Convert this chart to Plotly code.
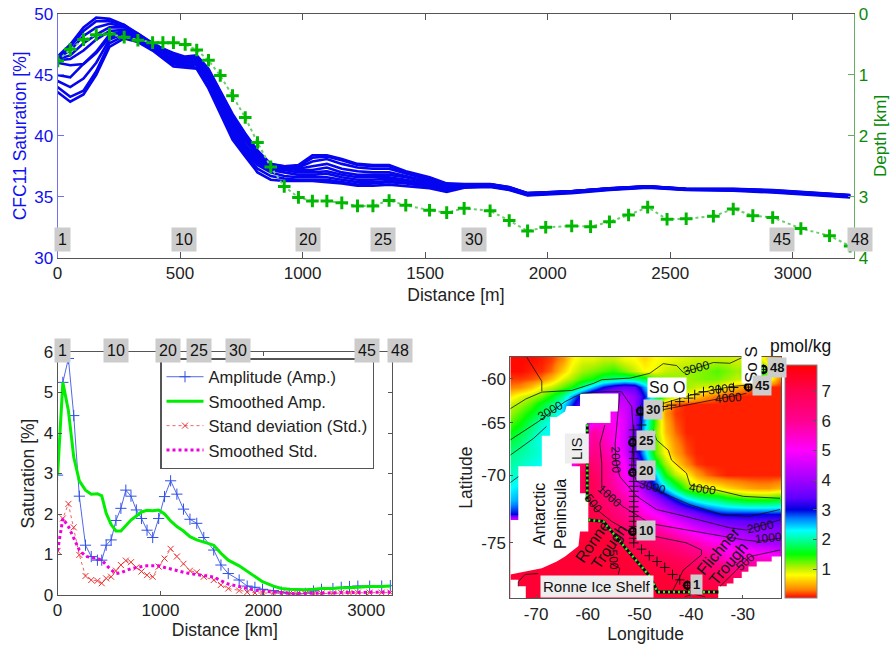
import math
import plotly.graph_objects as go

W, H = 893, 646

# ---------- section data ----------
station_km = [1,52,106,158,212,272,328,388,430,473,521,568,616,664,714,766,816,870,925,983,1040,1099,1160,1224,1287,
              1353,1421,1518,1588,1659,1765,1843,1918,1992,2098,2175,2252,2330,2408,2487,2565,2676,2757,2837,2918,3033,3150,3234]
depth_km = [.77,.58,.42,.34,.33,.38,.43,.47,.47,.47,.50,.59,.76,1.01,1.34,1.70,2.11,2.51,2.83,3.01,3.07,3.07,3.10,3.15,3.15,
            3.06,3.14,3.22,3.26,3.19,3.23,3.39,3.56,3.50,3.48,3.49,3.41,3.30,3.17,3.37,3.36,3.32,3.20,3.31,3.34,3.52,3.64,3.81]
knots = [0,52,106,158,212,272,328,388,473,521,568,616,664,714,766,816,870,925,983,1040,1099,1160,1224,1287,1353,1421,
         1518,1588,1659,1765,1843,1918,2098,2252,2408,2565,2757,2918,3234]
sat_a = [43.6,42.8,43.4,45.0,47.3,48.0,47.7,47.0,45.7,45.6,45.5,43.9,41.9,39.7,38.3,37.0,36.4,36.3,36.3,36.3,36.2,36.1,35.9,35.9,36.0,35.9,35.7,35.4,35.75,35.8,35.55,35.1,35.3,35.55,35.75,35.55,35.5,35.35,34.95]
sat_b = [44.0,43.2,43.7,45.3,47.6,48.2,47.8,47.1,45.9,45.7,45.6,44.2,42.2,40.0,38.5,37.3,36.7,36.5,36.4,36.4,36.4,36.2,36.0,36.1,36.2,36.1,35.8,35.5,35.8,35.85,35.6,35.15,35.35,35.6,35.78,35.58,35.53,35.4,35.0]
sat_c = [44.5,44.0,44.7,46.0,47.9,48.4,47.9,47.2,46.0,45.8,45.8,44.5,42.5,40.3,38.7,37.6,37.0,36.7,36.6,36.6,36.6,36.4,36.2,36.2,36.3,36.2,35.9,35.6,35.85,35.9,35.62,35.18,35.38,35.62,35.8,35.6,35.55,35.42,35.03]
sat_d = [45.0,44.8,45.9,46.8,48.1,48.5,48.0,47.2,46.1,45.9,45.9,44.7,42.8,40.6,38.9,37.8,37.2,37.0,36.8,36.8,36.9,36.6,36.4,36.4,36.5,36.3,36.0,35.65,35.88,35.92,35.65,35.2,35.4,35.63,35.8,35.6,35.55,35.43,35.05]
sat_e = [46.0,45.8,45.9,46.9,48.3,48.6,48.1,47.3,46.2,46.0,46.0,44.9,43.0,40.9,39.1,38.0,37.3,37.2,37.0,37.0,37.1,36.8,36.6,36.6,36.6,36.4,36.05,35.7,35.9,35.95,35.67,35.22,35.42,35.65,35.82,35.62,35.57,35.45,35.07]
sat_f = [46.2,46.3,47.0,47.9,48.6,48.7,48.2,47.4,46.3,46.1,46.1,45.0,43.1,41.1,39.3,38.2,37.4,37.3,37.2,37.2,37.4,37.0,36.8,36.8,36.8,36.6,36.15,35.75,35.92,35.97,35.7,35.24,35.43,35.66,35.83,35.62,35.58,35.47,35.08]
sat_g = [46.3,46.6,47.6,48.3,48.9,48.9,48.3,47.5,46.4,46.2,46.2,45.1,43.3,41.3,39.6,38.4,37.5,37.4,37.3,37.5,37.7,37.3,37.1,37.0,37.0,36.7,36.25,35.8,35.95,36.0,35.72,35.25,35.44,35.67,35.84,35.63,35.6,35.48,35.1]
sat_h = [46.4,47.0,48.2,48.9,49.2,49.0,48.4,47.6,46.6,46.3,46.4,45.2,43.5,41.5,39.8,38.6,37.6,37.45,37.4,37.9,38.1,37.7,37.4,37.3,37.3,36.9,36.4,35.9,36.0,36.02,35.75,35.28,35.45,35.68,35.85,35.64,35.62,35.5,35.12]
sat_i = [46.5,47.3,48.6,49.4,49.4,49.1,48.4,47.6,46.7,46.4,46.5,45.4,43.6,41.7,40.0,38.7,37.65,37.5,37.5,38.2,38.3,38.0,37.6,37.5,37.5,37.0,36.5,36.0,36.03,36.03,35.78,35.3,35.45,35.7,35.85,35.65,35.63,35.53,35.13]
sat_j = [46.5,47.5,48.9,49.7,49.6,49.1,48.3,47.5,46.8,46.5,46.6,45.5,43.7,41.8,40.2,38.8,37.7,37.5,37.6,38.4,38.4,38.1,37.7,37.6,37.6,37.1,36.6,36.1,36.05,36.05,35.8,35.3,35.45,35.7,35.85,35.65,35.65,35.55,35.15]
sat_lines = [sat_a, sat_b, sat_c, sat_d, sat_e, sat_f, sat_g, sat_h, sat_i, sat_j]

amp = [2.96,5.25,5.84,4.43,2.44,1.23,.95,.86,.86,1.23,1.36,1.84,2.14,2.59,2.44,2.1,1.89,1.6,1.42,1.89,2.43,2.82,2.49,2.12,1.87,
       1.77,1.42,1.11,.74,.53,.37,.22,.19,.14,.11,.07,.04,.03,.04,.1,.14,.16,.19,.21,.22,.22,.22,.23]
amp_smooth = [2.96,5.25,4.55,3.4,2.82,2.59,2.49,2.5,2.45,2.02,1.74,1.58,1.58,1.7,1.85,1.95,2.05,2.09,2.08,2.1,2.0,1.83,1.69,1.58,1.44,
              1.36,1.3,1.23,1.03,.86,.72,.58,.44,.33,.22,.16,.14,.13,.13,.14,.16,.16,.18,.18,.2,.21,.21,.22]
std = [1.09,1.89,2.25,1.67,.99,.47,.37,.35,.29,.41,.45,.6,.74,.85,.81,.68,.58,.49,.45,.7,.9,1.14,.95,.77,.6,
       .56,.45,.37,.25,.16,.11,.07,.05,.05,.05,.04,.03,.03,.03,.03,.04,.04,.05,.05,.06,.06,.06,.06]
std_smooth = [1.09,1.89,1.69,1.4,1.11,.96,.92,.9,.86,.74,.62,.53,.55,.6,.65,.68,.7,.72,.72,.72,.68,.64,.59,.56,.53,
              .51,.48,.44,.35,.27,.21,.16,.12,.1,.07,.06,.04,.04,.04,.04,.05,.05,.06,.06,.06,.07,.07,.07]

top_labels = [("1",62),("10",184),("20",308),("25",383),("30",474),("45",782),("48",860)]
low_labels = [("1",62),("10",116),("20",168),("25",199),("30",238),("45",367),("48",400)]

# ---------- map data ----------
grid_lon = [-75,-73,-71,-69,-67,-65,-63,-61,-59,-57,-55,-53,-51,-49,-47,-45,-43,-41,-39,-37,-35,-33,-31,-29,-27,-25,-23]
grid_lat = [-57.5,-59,-60,-61,-62,-63,-64,-65,-66,-67,-68,-69,-70,-71,-72,-73,-74,-75,-76,-77,-78]
cfc_grid = [
 [.05,.05,.05,.08,.15,.35,.75,.9,.9,1.0,1.0,.85,.8,.65,.8,.85,.9,.95,1.0,1.0,1.0,1.0,.95,1.0,1.0,.6,.3],
 [.05,.05,.1,.12,.25,.6,.9,1.1,1.2,1.3,1.4,1.2,1.0,.8,.85,1.0,1.05,1.1,1.15,1.2,1.3,1.2,1.1,1.3,1.6,1.2,.5],
 [.15,.15,.2,.3,.55,.9,1.1,1.35,1.5,1.8,1.9,2.0,1.9,1.7,1.3,1.2,1.15,1.1,1.15,1.2,1.2,1.1,1.0,1.1,1.6,1.0,.3],
 [.3,.35,.55,.85,1.0,1.25,1.5,1.95,2.5,3.0,3.3,3.5,3.4,2.6,1.8,1.3,1.15,1.1,1.0,.95,.9,.7,.5,.3,.15,.1,.1],
 [.7,.9,1.05,1.2,1.5,1.9,2.6,3.2,3.8,4.0,4.2,4.3,3.9,3.0,2.0,1.3,1.0,.85,.6,.4,.25,.12,.1,.1,.1,.1,.1],
 [1.0,1.1,1.3,1.6,1.85,2.3,2.9,3.6,4.2,4.4,4.6,4.5,4.0,2.8,1.4,.5,.2,.1,.1,.1,.1,.1,.1,.1,.1,.1,.1],
 [1.1,1.3,1.55,1.8,2.0,2.4,3.0,3.8,4.4,4.7,5.0,4.6,3.9,2.7,1.3,.4,.15,.1,.1,.1,.1,.1,.1,.1,.1,.1,.1],
 [1.3,1.5,1.8,2.1,2.3,2.6,3.2,4.0,5.0,5.3,5.1,4.7,3.8,2.5,1.3,.5,.2,.1,.1,.1,.1,.1,.1,.1,.1,.1,.1],
 [1.5,1.7,1.95,2.2,2.3,2.6,3.3,5.0,5.9,5.5,5.2,4.6,3.6,2.4,1.2,.55,.25,.1,.1,.1,.1,.1,.1,.1,.1,.1,.1],
 [1.7,1.85,2.1,2.25,2.3,2.6,3.4,5.2,6.0,5.7,5.2,4.6,3.5,2.4,1.25,.7,.35,.15,.1,.1,.1,.1,.1,.1,.1,.1,.1],
 [1.9,2.0,2.1,2.2,2.3,2.6,3.5,5.5,6.2,5.9,5.4,4.7,3.5,2.5,1.3,.8,.45,.2,.1,.1,.1,.1,.1,.1,.1,.1,.1],
 [2.0,2.1,2.2,2.3,2.4,2.8,5.0,6.8,6.5,6.1,5.6,5.0,3.9,2.9,1.7,1.1,.7,.35,.15,.1,.1,.1,.1,.1,.1,.1,.1],
 [2.1,2.2,2.3,2.4,2.5,3.0,5.5,7.0,6.8,6.2,5.7,5.1,4.2,3.4,2.5,1.5,1.05,.8,.45,.25,.15,.1,.1,.1,.1,.1,.1],
 [2.3,2.4,2.5,2.6,2.7,3.0,5.5,7.0,6.9,6.3,5.9,5.4,4.8,3.9,3.0,2.4,1.8,1.25,1.0,.9,.8,.65,.55,.45,.4,.4,.5],
 [2.5,2.6,2.7,2.8,2.9,3.2,5.5,7.0,7.0,6.6,6.2,5.8,5.3,4.7,4.1,3.5,3.0,2.5,2.2,2.0,1.9,1.7,1.6,1.5,1.5,1.5,1.6],
 [3.0,3.0,3.0,3.0,3.0,3.5,5.5,7.0,7.1,6.9,6.5,6.1,5.7,5.3,5.0,4.6,4.2,3.9,3.6,3.3,3.05,3.0,3.0,3.0,3.0,3.0,3.0],
 [7.0,7.0,7.0,7.0,7.0,7.0,7.0,7.1,7.2,7.2,6.9,6.6,6.3,6.0,5.8,5.5,5.2,4.9,4.6,4.4,4.2,4.0,3.9,3.8,3.8,3.8,3.8],
 [7.3,7.3,7.3,7.3,7.3,7.3,7.3,7.3,7.3,7.3,7.2,7.1,6.9,6.8,6.6,6.4,6.2,5.9,5.7,5.4,5.2,4.9,4.6,4.4,4.2,4.1,4.0],
 [7.3,7.3,7.3,7.3,7.3,7.3,7.3,7.3,7.3,7.3,7.3,7.3,7.2,7.2,7.1,7.0,6.9,6.7,6.5,6.2,5.9,5.4,5.5,5.6,5.5,5.4,5.2],
 [7.3,7.3,7.3,7.3,7.3,7.3,7.3,7.3,7.3,7.3,7.3,7.3,7.3,7.3,7.3,7.3,7.2,7.2,7.1,7.0,6.9,6.8,6.7,6.6,6.5,6.4,6.3],
 [7.3,7.3,7.3,7.3,7.3,7.3,7.3,7.3,7.3,7.3,7.3,7.3,7.3,7.3,7.3,7.3,7.3,7.3,7.3,7.3,7.3,7.3,7.3,7.3,7.3,7.3,7.3],
]
cmap_values = [.03,.3,.8,1.0,1.5,2.0,2.3,2.7,3.0,3.4,4.0,5.0,6.0,7.0,7.87]
cmap_colors = ["#ff0000","#ff8000","#ffff00","#c8f000","#00ff00","#00ffa0","#00ffff","#0080ff","#0000e0",
               "#6000ff","#a000ff","#ff00ff","#ff0090","#ff0050","#ff0000"]

land_main_lon = [-61.5,-54.1,-54.1,-55.6,-55.6,-60.2,-60.2,-63.1,-63.1,-61.5,-61.5,-59.9,-59.9,-61.5,-61.8,-64.4,-66,-68.9,-75,-75,-73.45,-73.45,-68.9,-68.9,-67.3,-67.3,-66,-64.4,-64.1,-61.5]
land_main_lat = [-61.75,-61.75,-63.8,-63.8,-65.05,-65.05,-68.8,-68.8,-69.2,-69.2,-71.45,-71.45,-74.25,-74.25,-75.2,-75.85,-76.15,-76.55,-76.9,-73.45,-73.45,-69.2,-69.2,-66.35,-66.35,-64.4,-64.4,-63.8,-63.2,-63.2]
land_sw_lon = [-75,-73.45,-73.45,-72,-72,-75]
land_sw_lat = [-77.2,-77.2,-77.55,-77.55,-78.17,-78.17]
land_se_lon = [-22.6,-24.4,-24.4,-27.3,-27.3,-28.9,-28.9,-30.2,-30.2,-31.8,-31.8,-33.1,-33.1,-34.75,-34.75,-22.6]
land_se_lat = [-75.85,-75.85,-76.15,-76.15,-76.45,-76.45,-76.75,-76.75,-77.1,-77.1,-77.4,-77.4,-77.55,-77.55,-78.17,-78.17]

contours = [
 ([-75,-72,-68.9,-63.1,-58.9,-57.3,-51.8,-48,-45.4,-42.8,-41.5,-35.7,-32.5,-30],
  [-63.5,-62.4,-61.6,-61.4,-60.55,-60.1,-59.9,-59.3,-58.05,-58.3,-59.2,-57.9,-58,-57.2]),
 ([-71.8,-68.9,-68.9],[-57.2,-60.3,-61.5]),
 ([-75,-69.6,-64.4,-61.2,-56.7,-53.5,-51.5,-51.2,-51.5,-50.5,-45.4,-40.2,-33.8,-28.6,-22.8],
  [-66.75,-64.9,-62.7,-61.75,-61.55,-61.55,-63.25,-65.75,-69.5,-70.5,-71.45,-72.35,-73.1,-73.2,-72.7]),
 ([-75,-70.5,-68],[-68.2,-66.6,-65.4]),
 ([-75,-73.45],[-70.6,-70.1]),
 ([-53.8,-54.1,-54.7,-54.6,-53.8,-50.5,-46.7,-42.2,-37.6,-32.5,-29.3,-22.8],
  [-61.75,-64,-67.1,-68.65,-70.1,-71.7,-72.7,-73.1,-73.55,-74,-74.15,-73.45]),
 ([-56.7,-57.65,-57.3,-57.3,-55.1,-53.1,-50.5,-48,-29.9,-27.3,-22.8],
  [-65.25,-67.1,-68.95,-71.05,-71.85,-72.5,-73.1,-73.7,-74.8,-74.9,-74.7]),
 ([-60.2,-60.1,-58.6,-55.4,-51.2,-46.7,-40.9,-38,-38,-41.5,-43.5],
  [-70.35,-71.85,-72.6,-73.55,-74.4,-74.6,-75,-75.45,-75.75,-76.65,-77.75]),
 ([-55.7,-53.8,-54.1],[-76.25,-76.55,-76.9]),
 ([-22.8,-28.6,-31.2,-34.4],[-75.45,-75.85,-76.65,-77.55]),
 ([-73.45,-73.45,-72.15,-69.6],[-77.55,-77.3,-76.9,-76.85]),
 ([-41.2,-39.6,-37.3],[-78.1,-77.95,-78.1]),
 ([-47.3,-46.7,-44.4,-43.8,-40.9,-40.2,-35.1,-29.9,-22.8],
  [-65.75,-66.75,-67.75,-68.65,-69.8,-70.8,-71.2,-71.7,-71.85]),
 ([-45.4,-38.9,-29.3],[-63.6,-62.9,-61.75]),
 ([-45.4,-38.9,-32.5,-28.9],[-62.9,-61.75,-60.95,-60.75]),
]
track_lon = [-40.7,-42.2,-43.6,-45.1,-46.6,-48.1,-49.6]+[-51.1]*20+[-49.6,-49.8,-49.8,-45.4,-43.8,-42.2,-40.5,-39.3,-37.6,-34.7,-31.8,-28.9,-26]
track_lat = [-77.5,-77.2,-76.9,-76.5,-76.15,-75.8,-75.4,-75,-74.7,-74.25,-73.9,-73.55,-73.2,-72.85,-72.5,-72.1,-71.7,-71.3,-70.9,-70.5,-69.75,-69.1,-68.5,-67.9,-67.1,-66.45,-65.75,
             -65.25,-64.2,-63.65,-63.25,-63.1,-62.7,-62.3,-61.9,-61.55,-61.3,-61.05,-61,-58.8]
ring_lon = [-40.7,-51.3,-51.3,-51.3,-49.8,-28.9,-26]
ring_lat = [-77.5,-74.25,-69.75,-67,-63.75,-61,-58.8]
shelf_a_lon = [-60.1,-60.1]
shelf_a_lat = [-65.2,-72.1]
shelf_b_lon = [-59.9,-57,-53.8,-48,-46.5,-34.7]
shelf_b_lat = [-73.45,-73.55,-74.9,-77,-77.85,-77.85]

map_station_labels = [("1",738,763),("10",588,600),("20",588,420),("25",588,330),("30",610,238),("45",935,167),("48",980,112)]
contour_labels = [("3000",300,243,-30),("2000",497,390,88),("1000",478,498,42),("500",428,520,52),("3000",608,472,15),
                  ("4000",758,477,8),("3000",740,115,-15),("3000",815,177,-6),("4000",835,205,-5),("2000",930,592,-12),
                  ("1000",955,625,-6),("500",885,695,-42),("500",490,690,85)]
lat_ticks = [-60,-65,-70,-75]
lon_ticks = [-70,-60,-50,-40,-30]

def merc(lat):
    return -math.log(math.tan(math.pi/4 + abs(lat)*math.pi/360))

def dom_x(a, b):
    return [a/W, b/W]

def dom_y(t, b):
    return [1-b/H, 1-t/H]

FONT = "Liberation Sans"
DK = "#555555"
fig = go.Figure()

# ---- top panel
for s in sat_lines:
    fig.add_trace(go.Scatter(x=knots, y=s, mode="lines", line=dict(color="#0505f0", width=2.6),
                             showlegend=False, xaxis="x", yaxis="y", hoverinfo="skip"))
fig.add_trace(go.Scatter(x=station_km, y=depth_km, mode="lines+markers", showlegend=False, xaxis="x", yaxis="y2",
                         line=dict(color="#70cc70", width=2, dash="dot"),
                         marker=dict(symbol="cross-thin", size=9, line=dict(color="#00b800", width=3))))

# ---- lower left panel
fig.add_trace(go.Scatter(x=station_km, y=amp, name="Amplitude (Amp.)", mode="lines+markers", xaxis="x2", yaxis="y3",
                         line=dict(color="#5068e8", width=1),
                         marker=dict(symbol="cross-thin", size=8, line=dict(color="#3050e8", width=1))))
fig.add_trace(go.Scatter(x=station_km, y=amp_smooth, name="Smoothed Amp.", mode="lines", xaxis="x2", yaxis="y3",
                         line=dict(color="#00ee00", width=3)))
fig.add_trace(go.Scatter(x=station_km, y=std, name="Stand deviation (Std.)", mode="lines+markers", xaxis="x2", yaxis="y3",
                         line=dict(color="#f06060", width=1, dash="dot"),
                         marker=dict(symbol="x-thin", size=6, line=dict(color="#ee3030", width=1))))
fig.add_trace(go.Scatter(x=station_km, y=std_smooth, name="Smoothed Std.", mode="lines", xaxis="x2", yaxis="y3",
                         line=dict(color="#ee00dd", width=3, dash="dot")))

# ---- map panel
zmin, zmax = cmap_values[0], cmap_values[-1]
cscale = [[(v-zmin)/(zmax-zmin), c] for v, c in zip(cmap_values, cmap_colors)]
fig.add_trace(go.Heatmap(x=grid_lon, y=[merc(a) for a in grid_lat], z=cfc_grid, zmin=zmin, zmax=zmax, zsmooth="best",
                         colorscale=cscale, xaxis="x3", yaxis="y4", hoverinfo="skip",
                         colorbar=dict(x=785/W, xanchor="left", xpad=0, y=1-598/H, yanchor="bottom", ypad=0,
                                       len=233/H, lenmode="fraction", thickness=32, thicknessmode="pixels",
                                       tickvals=[1,2,3,4,5,6,7], ticks="inside", ticklen=4, tickcolor=DK,
                                       outlinecolor="#888888", outlinewidth=1,
                                       tickfont=dict(family=FONT, size=17, color="#222222"))))
for lo, la in [(land_main_lon, land_main_lat), (land_sw_lon, land_sw_lat), (land_se_lon, land_se_lat)]:
    fig.add_trace(go.Scatter(x=lo, y=[merc(a) for a in la], mode="lines", fill="toself", fillcolor="white",
                             line=dict(width=0, color="white"), showlegend=False, xaxis="x3", yaxis="y4", hoverinfo="skip"))
for lo, la in contours:
    fig.add_trace(go.Scatter(x=lo, y=[merc(a) for a in la], mode="lines", line=dict(color="#111111", width=0.8),
                             showlegend=False, xaxis="x3", yaxis="y4", hoverinfo="skip"))
for lo, la in [(shelf_a_lon, shelf_a_lat), (shelf_b_lon, shelf_b_lat)]:
    ym = [merc(a) for a in la]
    fig.add_trace(go.Scatter(x=lo, y=ym, mode="lines", line=dict(color="#0a0a0a", width=3),
                             showlegend=False, xaxis="x3", yaxis="y4", hoverinfo="skip"))
    fig.add_trace(go.Scatter(x=lo, y=ym, mode="lines", line=dict(color="#20ff20", width=2.5, dash="2px 3px"),
                             showlegend=False, xaxis="x3", yaxis="y4", hoverinfo="skip"))
fig.add_trace(go.Scatter(x=track_lon, y=[merc(a) for a in track_lat], mode="markers", showlegend=False,
                         marker=dict(symbol="cross-thin", size=7, line=dict(color="#111111", width=1)),
                         xaxis="x3", yaxis="y4", hoverinfo="skip"))
fig.add_trace(go.Scatter(x=ring_lon, y=[merc(a) for a in ring_lat], mode="markers", showlegend=False,
                         marker=dict(symbol="circle-open", size=7, color="#000000", line=dict(color="#000000", width=2.2)),
                         xaxis="x3", yaxis="y4", hoverinfo="skip"))

# ---- annotations
ann = []

def label(text, px, py, size=16, bg=None, angle=0, color="#111111", pad=3):
    d = dict(text=text, x=px/W, y=1-py/H, xref="paper", yref="paper", xanchor="center", yanchor="middle",
             showarrow=False, textangle=angle, font=dict(family=FONT, size=size, color=color), borderpad=pad)
    if bg:
        d["bgcolor"] = bg
    ann.append(d)

def zoom_label(text, zx, zy, **kw):
    label(text, 450+zx/3, 330+zy/3, **kw)

for t, px in top_labels:
    label(t, px, 239, bg="#cccccc")
for t, px in low_labels:
    label(t, px, 350, bg="#cccccc")
for t, zx, zy, a in contour_labels:
    zoom_label(t, zx, zy, size=12, angle=a, pad=0)
zoom_label("So O", 650, 172, size=16, bg="white", pad=1)
zoom_label("So S", 903, 105, size=17, bg="white", angle=-90, pad=0)
zoom_label("LIS", 380, 355, size=15, bg="#eeeeee", angle=-90, pad=3)
zoom_label("Antarctic<br>Peninsula", 300, 552, size=16, angle=-90, pad=0)
zoom_label("Ronne", 428, 635, size=16, angle=-55, pad=0)
zoom_label("Trough", 478, 650, size=16, angle=-55, pad=0)
zoom_label("Flichner", 805, 660, size=16, angle=-50, pad=0)
zoom_label("Trough", 835, 700, size=16, angle=-50, pad=0)
zoom_label("Ronne Ice Shelf", 440, 768, size=15, bg="#eeeeee", pad=2)
for t, zx, zy in map_station_labels:
    zoom_label("<b>%s</b>" % t, zx, zy, size=13, bg="#cccccc", pad=2)
label("pmol/kg", 800, 346, size=17.5)

tick = dict(family=FONT, size=17, color="#222222")
title = dict(family=FONT, size=17.5, color="#222222")
blue = "#1010f0"
green = "#088a08"

fig.update_layout(
    width=W, height=H, autosize=False, margin=dict(l=0, r=0, t=0, b=0, autoexpand=False),
    paper_bgcolor="white", plot_bgcolor="white", annotations=ann,
    legend=dict(x=160/W, y=1-358/H, xanchor="left", yanchor="top", bgcolor="white", bordercolor="#555555", borderwidth=1.5,
                font=dict(family=FONT, size=16.5, color="#222222"), itemwidth=37, tracegroupgap=0,
                entrywidth=172, entrywidthmode="pixels"),
    xaxis=dict(domain=dom_x(57.5, 854.3), range=[0, 3251], anchor="y", showgrid=False, zeroline=False, showline=True, linecolor=DK,
               mirror="ticks", ticks="inside", ticklen=6, tickcolor=DK, tickvals=[0,500,1000,1500,2000,2500,3000], tickfont=tick,
               title=dict(text="Distance [m]", font=title, standoff=6)),
    yaxis=dict(domain=dom_y(14, 257.7), range=[30, 50], anchor="x", showgrid=False, zeroline=False, showline=True, linecolor="#7070f0",
               ticks="inside", ticklen=6, tickcolor="#7070f0", tickvals=[30,35,40,45,50], tickfont=dict(family=FONT, size=17, color=blue),
               title=dict(text="CFC11 Saturation [%]", font=dict(family=FONT, size=17.5, color=blue), standoff=3)),
    yaxis2=dict(domain=dom_y(14, 257.7), range=[4, 0], overlaying="y", side="right", anchor="x", showgrid=False, zeroline=False,
                showline=True, linecolor="#60b060", ticks="inside", ticklen=6, tickcolor="#60b060", tickvals=[0,1,2,3,4],
                tickfont=dict(family=FONT, size=17, color=green),
                title=dict(text="Depth [km]", font=dict(family=FONT, size=17, color=green), standoff=6)),
    xaxis2=dict(domain=dom_x(57.5, 392), range=[0, 3250], anchor="y3", showgrid=False, zeroline=False, showline=True, linecolor=DK,
                mirror="ticks", ticks="inside", ticklen=4, tickcolor=DK, tickvals=[0,1000,2000,3000], tickfont=tick,
                title=dict(text="Distance [km]", font=title, standoff=4)),
    yaxis3=dict(domain=dom_y(352, 595), range=[0, 6], anchor="x2", showgrid=False, zeroline=False, showline=True, linecolor=DK,
                mirror="ticks", ticks="inside", ticklen=4, tickcolor=DK, tickvals=[0,1,2,3,4,5,6], tickfont=tick,
                title=dict(text="Saturation [%]", font=title, standoff=4)),
    xaxis3=dict(domain=dom_x(510.3, 781), range=[-75, -22.6], anchor="y4", showgrid=False, zeroline=False, showline=True, linecolor=DK,
                mirror=True, ticks="inside", ticklen=3, tickcolor=DK, tickvals=lon_ticks, ticktext=[str(a) for a in lon_ticks], tickfont=tick,
                title=dict(text="Longitude", font=title, standoff=4)),
    yaxis4=dict(domain=dom_y(357, 598.3), range=[-2.2677, -1.222], anchor="x3", showgrid=False, zeroline=False, showline=True, linecolor=DK,
                mirror=True, ticks="inside", ticklen=3, tickcolor=DK, tickvals=[merc(a) for a in lat_ticks],
                ticktext=[str(a) for a in lat_ticks], tickfont=tick,
                title=dict(text="Latitude", font=title, standoff=4)),
)
fig.write_html("out.html", config={"displayModeBar": False},
               post_script="document.body.style.margin='0';document.body.style.overflow='hidden';")
